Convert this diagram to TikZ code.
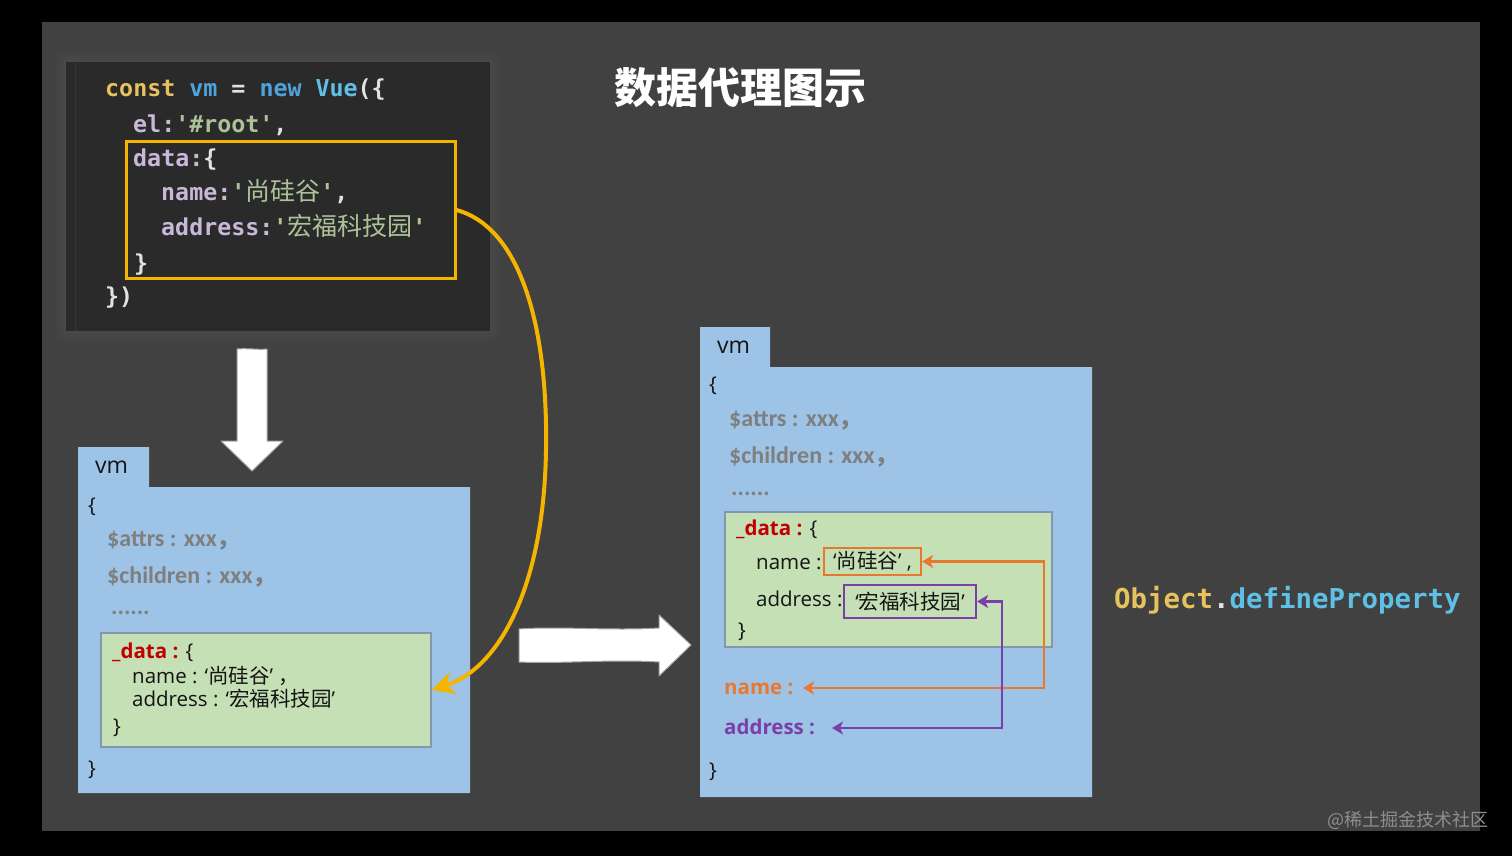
\documentclass[tikz,border=0pt]{standalone}
\usepackage{fontspec}
\usetikzlibrary{arrows.meta}
\newfontfamily\cjk{Noto Sans CJK SC}
\newfontfamily\latf{Open Sans}
\newfontfamily\calf{Carlito}
\newfontfamily\codefont[Ligatures=TeXOff]{DejaVu Sans Mono}
\newcommand{\zh}[1]{{\cjk #1}}
\definecolor{panel}{HTML}{414141}
\definecolor{codebg}{HTML}{2A2A2A}
\definecolor{codehalo}{HTML}{5A5A5A}
\definecolor{cyel}{HTML}{E6C35C}
\definecolor{cblue}{HTML}{4EA3DD}
\definecolor{cvue}{HTML}{5FC0E6}
\definecolor{cpunc}{HTML}{E2E2E2}
\definecolor{cprop}{HTML}{C9B9D9}
\definecolor{cstr}{HTML}{AEC29A}
\definecolor{gold}{HTML}{F5B400}
\definecolor{lblue}{HTML}{9DC3E6}
\definecolor{lgreen}{HTML}{C5E0B4}
\definecolor{gborder}{HTML}{8497B0}
\definecolor{grayt}{HTML}{7F7F7F}
\definecolor{txtc}{HTML}{141414}
\definecolor{redt}{HTML}{C00000}
\definecolor{oran}{HTML}{E8782E}
\definecolor{purp}{HTML}{7A3FA8}
\definecolor{wmark}{HTML}{8E8E8E}
\tikzset{
  code/.style={anchor=west, inner sep=0pt, text height=17pt, text depth=5pt,
    font=\codefont\bfseries\fontsize{23.3}{28}\selectfont},
  txt/.style={anchor=west, inner sep=0pt, text height=16pt, text depth=4pt,
    text=txtc, font=\latf\fontsize{20.5}{25}\selectfont},
  graytxt/.style={txt, text=grayt, font=\calf\bfseries\fontsize{24}{27}\selectfont},
  boldlbl/.style={txt, font=\latf\bfseries\fontsize{20.5}{25}\selectfont},
  vmlabel/.style={anchor=west, inner sep=0pt, text=txtc, font=\latf\fontsize{23}{28}\selectfont},
  greenbox/.style={draw=gborder, line width=1.5pt, fill=lgreen, inner sep=0pt},
  bluebox/.style={fill=lblue},
  valbox/.style={line width=2.2pt, inner sep=0pt, text=txtc, font=\latf\fontsize{20.5}{25}\selectfont},
  whitearrow/.style={fill=white, draw=black!35, line width=1pt, line join=round},
  connO/.style={draw=oran, line width=2.6pt, {Stealth[length=11pt,width=13pt,inset=3pt]}-{Stealth[length=11pt,width=13pt,inset=3pt]}},
  connP/.style={draw=purp, line width=2.2pt, {Stealth[length=11pt,width=13pt,inset=3pt]}-{Stealth[length=11pt,width=13pt,inset=3pt]}},
  connY/.style={draw=gold, line width=4pt, -{Stealth[length=22pt,width=22pt,inset=6pt]}},
}
\begin{document}
\begin{tikzpicture}[x=1pt,y=-1pt]
\useasboundingbox (0,0) rectangle (1512,856);
\fill[black] (0,0) rectangle (1512,856);
\fill[panel] (42,22) rectangle (1480,831);

% title
\node[text=white, font=\cjk\bfseries\fontsize{42}{46}\selectfont, inner sep=0pt] (title) at (740,88) {数据代理图示};

% code box with soft halo
\foreach \d/\o in {12/0.08,9/0.1,6/0.12,3/0.15}{
  \fill[codehalo, opacity=\o, rounded corners=\d pt] (66-\d,62-\d) rectangle (490+\d,331+\d);
}
\fill[codebg] (66,62) rectangle (490,331);
\draw[black!65!white, opacity=0.25, line width=1pt] (75,62) -- (75,331);
\node[code] (c1) at (105,91) {\color{cyel}const \color{cblue}vm \color{cpunc}= \color{cblue}new \color{cvue}Vue\color{cpunc}(\{};
\node[code] (c2) at (133,126) {\color{cprop}el:\color{cstr}'\#root'\color{cpunc},};
\node[code] (c3) at (133,160) {\color{cprop}data:\color{cpunc}\{};
\node[code] (c4) at (161,194) {\color{cprop}name:\color{cstr}'{\cjk\mdseries\fontsize{25}{28}\selectfont 尚硅谷}'\color{cpunc},};
\node[code] (c5) at (161,229) {\color{cprop}address:\color{cstr}'{\cjk\mdseries\fontsize{25}{28}\selectfont 宏福科技园}'};
\node[code, text=cpunc] (c6) at (134,265) {\}};
\node[code, text=cpunc] (c7) at (105,298) {\})};
\node[draw=gold, line width=3pt, minimum width=329pt, minimum height=136pt, inner sep=0pt] (yb) at (290.5,210) {};

% down white arrow
\draw[whitearrow] (237,349) .. controls (248,348) and (258,350) .. (267,349) -- (267,441) -- (283,441) -- (252,471) -- (221,441) -- (237,441) -- cycle;
% right white arrow
\draw[whitearrow] (519,629) .. controls (560,626) and (610,631) .. (659,628) -- (659,615) -- (691,645) -- (659,676) -- (659,662) .. controls (610,659) and (560,664) .. (519,662) -- cycle;

% left vm box
\path[bluebox] (78,447) -- (149,447) -- (149,487) -- (470,487) -- (470,793) -- (78,793) -- cycle;
\node[vmlabel] (lvm) at (95,467) {vm};
\node[txt] (lo) at (88,506) {\{};
\node[graytxt] (la) at (107,540) {\$attrs : xxx\zh{，}};
\node[graytxt] (lc) at (107,577) {\$children : xxx\zh{，}};
\node[graytxt] (ld) at (111,608) {......};
\node[greenbox, minimum width=330pt, minimum height=114pt] (lg) at (266,690) {};
\node[txt] (ldata) at (112,652) {{\bfseries\color{redt}\_data :} \{};
\node[txt] (lname) at (132,677) {name : ‘\zh{尚硅谷}’ \zh{，}};
\node[txt] (laddr) at (132,700) {address : ‘\zh{宏福科技园}’};
\node[txt] (lcl) at (113,727) {\}};
\node[txt] (lclose) at (88,769) {\}};

% right vm box
\path[bluebox] (700,327) -- (770,327) -- (770,367) -- (1092,367) -- (1092,797) -- (700,797) -- cycle;
\node[vmlabel] (rvm) at (717,347) {vm};
\node[txt] (ro) at (709,385) {\{};
\node[graytxt] (ra) at (729,420) {\$attrs : xxx\zh{，}};
\node[graytxt] (rc) at (729,457) {\$children : xxx\zh{，}};
\node[graytxt] (rd) at (731,489) {......};
\node[greenbox, minimum width=327pt, minimum height=135pt] (rg) at (888.5,579.5) {};
\node[txt] (rdata) at (736,529) {{\bfseries\color{redt}\_data :} \{};
\node[txt] (rname) at (756,563) {name :};
\node[txt] (raddr) at (756,600) {address :};
\node[txt] (rcl) at (738,631) {\}};
\node[valbox, draw=oran, minimum width=97pt, minimum height=27pt] (ob) at (872.5,561.5) {‘\zh{尚硅谷}’ ,};
\node[valbox, draw=purp, minimum width=132pt, minimum height=33pt] (pb) at (910,601.5) {‘\zh{宏福科技园}’};
\node[boldlbl, text=oran] (rn2) at (724,688) {name :};
\node[boldlbl, text=purp] (ra2) at (724,728) {address :};
\node[txt] (rclose) at (709,771) {\}};
\coordinate (ntip) at (803,688);
\coordinate (atip) at (832,728);

% connectors
\draw[connO] (ob.east) -- ++(122,0) |- (ntip);
\draw[connP] (pb.east) -- ++(25,0) |- (atip);
\draw[connY] (yb.east) .. controls (522,228) and (548,330) .. (546,450) .. controls (544,585) and (500,668) .. (lg.east);

% Object.defineProperty
\node[anchor=west, inner sep=0pt, font=\codefont\bfseries\fontsize{27.4}{32}\selectfont] (odp) at (1114,600) {\color{cyel}Object\color{cpunc}.\color{cvue}defineProperty};

% watermark
\node[anchor=west, inner sep=0pt, text=wmark, font=\cjk\fontsize{18}{20}\selectfont] (wm) at (1327,820) {@稀土掘金技术社区};
\end{tikzpicture}
\end{document}
